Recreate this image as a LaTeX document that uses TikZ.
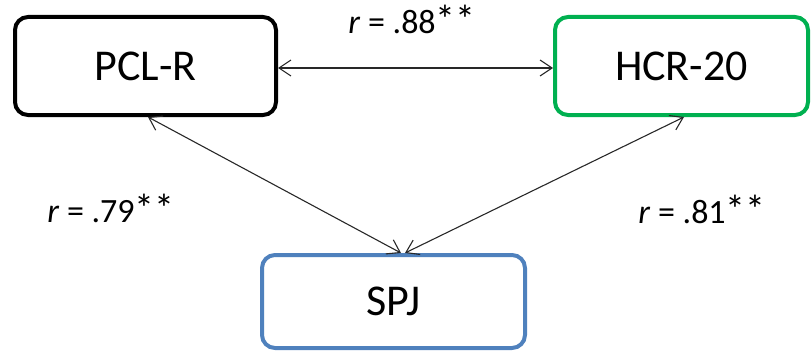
\documentclass[tikz,border=0pt]{standalone}
\usepackage{fontspec}
\setmainfont{Carlito}
\usetikzlibrary{arrows.meta}
\definecolor{boxgreen}{RGB}{0,176,80}
\definecolor{boxblue}{RGB}{79,129,189}
\definecolor{linkgray}{RGB}{40,40,40}
% significance stars, set a little larger than the figures
\newcommand{\sigstars}{{\fontsize{40}{40}\selectfont**}}
\begin{document}
\begin{tikzpicture}[x=1pt,y=-1pt,
  scalebox/.style={draw, rounded corners=13pt, line width=4pt, fill=white,
    inner sep=0pt, font=\fontsize{44}{48}\selectfont},
  link/.style={draw=linkgray, line width=1.1pt,
    {Straight Barb[length=12pt,width=16pt,line width=1.1pt]}-{Straight Barb[length=12pt,width=16pt,line width=1.1pt]}},
  corr/.style={font=\fontsize{34}{36}\selectfont, inner sep=0pt}]
  \useasboundingbox (0,0) rectangle (811,353);
  % the three instruments
  \node[scalebox, minimum width=261pt, minimum height=98pt] (pcl) at (145.5,66) {PCL-R};
  \node[scalebox, draw=boxgreen, minimum width=253pt, minimum height=98pt] (hcr) at (681.5,66) {HCR-20};
  \node[scalebox, draw=boxblue, minimum width=263pt, minimum height=93pt] (spj) at (393.5,301.5) {SPJ};
  % correlations between them
  \coordinate (pclb) at ([xshift=2.5pt]pcl.south);
  \coordinate (hcrb) at ([xshift=2.5pt]hcr.south);
  \coordinate (spjl) at ([xshift=7.5pt]spj.north);
  \coordinate (spjr) at ([xshift=11.5pt]spj.north);
  \draw[link] ([yshift=-2pt]pcl.east) -- ([yshift=-2pt]hcr.west);
  \draw[link] (pclb) -- (spjl);
  \draw[link] (hcrb) -- (spjr);
  \node[corr, anchor=base] (c1) at (412,34) {\textit{r} = .88\sigstars};
  \node[corr, anchor=base] (c2) at (111,222) {\textit{r} = .79\sigstars};
  \node[corr, anchor=base] (c3) at (702,223) {\textit{r} = .81\sigstars};
\end{tikzpicture}
\end{document}
